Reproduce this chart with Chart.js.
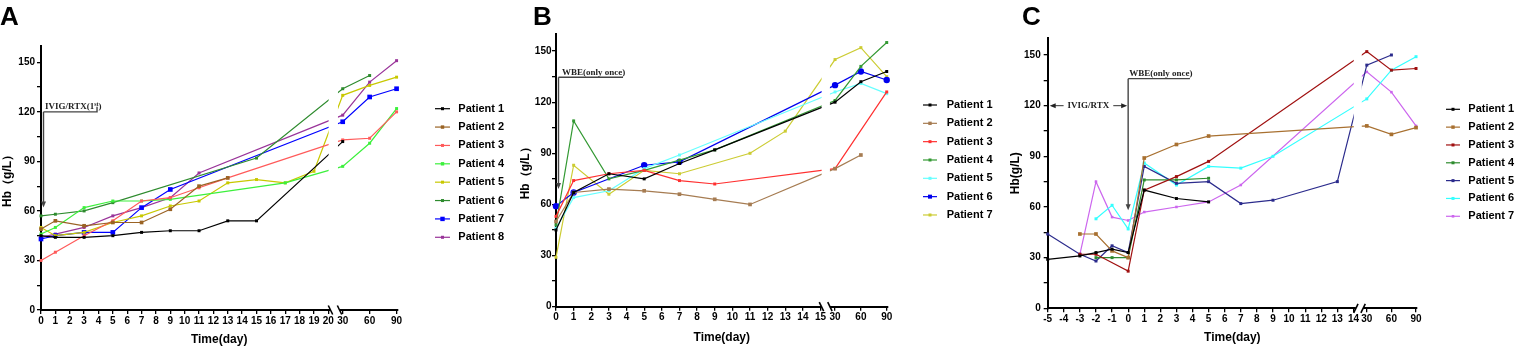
<!DOCTYPE html>
<html>
<head>
<meta charset="utf-8">
<title>Hb over time</title>
<script src="https://cdn.jsdelivr.net/npm/chart.js@4.4.1/dist/chart.umd.min.js"></script>
<style>
html,body{margin:0;padding:0;background:#fff;}
body{position:relative;width:1515px;height:350px;overflow:hidden;}
canvas{position:absolute;top:0;}
</style>
</head>
<body>
<canvas id="chartA" width="510" height="350" style="left:0px"></canvas>
<canvas id="chartB" width="500" height="350" style="left:510px"></canvas>
<canvas id="chartC" width="505" height="350" style="left:1010px"></canvas>
<script>
// ================= DATA =================
// Panel A
const aDays = [0,1,3,5,7,9,11,13,15,17,19,30,60,90];
const aPatient1 = [45,44,44,45,47,48,48,54,54,null,null,102,null,null];
const aPatient2 = [49,54,51,53,53,61,75,80,null,null,null,null,null,null];
const aPatient3 = [30,35,45,54,66,68,74,80,null,null,null,103,104,120];
const aPatient4 = [46,50,62,66,66,67,null,null,null,77,null,87,101,122];
const aPatient5 = [50,45,47,53,57,63,66,77,79,77,84,130,136,141];
const aPatient6 = [57,58,60,65,null,null,null,null,92,null,null,134,142,null];
const aPatient7 = [43,45,47,47,62,73,null,null,null,null,null,114,129,134];
const aPatient8 = [44,46,50,57,62,68,83,null,null,null,null,118,138,151];
const aNames = ['Patient 1','Patient 2','Patient 3','Patient 4','Patient 5','Patient 6','Patient 7','Patient 8'];
const aXTickLabels = [0,1,2,3,4,5,6,7,8,9,10,11,12,13,14,15,16,17,18,19,20,30,60,90];

// Panel B
const bDays = [0,1,3,5,7,9,11,13,30,60,90];
const bPatient1 = [45,67,78,75,84,92,null,null,120,132,138];
const bPatient2 = [50,67,69,68,66,63,60,null,81,89,null];
const bPatient3 = [53,74,78,80,74,72,null,null,81,null,126];
const bPatient4 = [48,109,75,80,86,92,null,null,121,141,155];
const bPatient5 = [46,64,68,81,89,null,null,null,126,131,125];
const bPatient6 = [59,67,null,83,85,null,null,null,130,138,133];
const bPatient7 = [29,83,66,80,78,null,90,103,145,152,135];
const bNames = ['Patient 1','Patient 2','Patient 3','Patient 4','Patient 5','Patient 6','Patient 7'];
const bXTickLabels = [0,1,2,3,4,5,6,7,8,9,10,11,12,13,14,15,30,60,90];

// Panel C
const cDays = [-5,-3,-2,-1,0,1,3,5,7,9,13,30,60,90];
const cPatient1 = [29,31,33,35,33,70,65,63,null,null,null,null,null,null];
const cPatient2 = [null,44,44,34,30,89,97,102,null,null,null,108,103,107];
const cPatient3 = [null,32,32,null,22,70,78,87,null,null,null,152,141,142];
const cPatient4 = [null,null,30,30,30,76,76,77,null,null,null,null,null,null];
const cPatient5 = [44,32,28,37,33,84,74,75,62,64,75,144,150,null];
const cPatient6 = [null,null,53,61,47,86,73,84,83,90,null,124,141,149];
const cPatient7 = [null,32,75,54,52,57,60,63,73,null,null,140,128,108];
const cNames = ['Patient 1','Patient 2','Patient 3','Patient 4','Patient 5','Patient 6','Patient 7'];
const cXTickLabels = [-5,-4,-3,-2,-1,0,1,2,3,4,5,6,7,8,9,10,11,12,13,14,30,60,90];

const hbTicks = [0,15,30,45,60,75,90,105,120,135,150];

// ============ broken-axis transforms (day -> axis position) ============
function mapA(d){ return d <= 20 ? d : 21 + (d - 30) * 1.875 / 30; }
function mapB(d){ return d <= 15 ? d : 15.82 + (d - 30) * 1.465 / 30; }
function mapC(d){ return d <= 14 ? d : 14.83 + (d - 30) * 1.53 / 30; }

const SANS = "'Liberation Sans', Arial, sans-serif";
const SERIF = "'Liberation Serif', 'Times New Roman', serif";
Chart.defaults.font.family = SANS;

function arrowDown(ctx, x, y1, y2){
  ctx.beginPath(); ctx.moveTo(x, y1); ctx.lineTo(x, y2 - 4); ctx.stroke();
  ctx.beginPath(); ctx.moveTo(x, y2); ctx.lineTo(x - 2.5, y2 - 6); ctx.lineTo(x + 2.5, y2 - 6); ctx.closePath(); ctx.fill();
}
function arrowH(ctx, x1, x2, y){
  const s = x2 > x1 ? 1 : -1;
  ctx.beginPath(); ctx.moveTo(x1, y); ctx.lineTo(x2 - 4 * s, y); ctx.stroke();
  ctx.beginPath(); ctx.moveTo(x2, y); ctx.lineTo(x2 - 6 * s, y - 2.5); ctx.lineTo(x2 - 6 * s, y + 2.5); ctx.closePath(); ctx.fill();
}

function build(o){
  const datasets = o.series.map((vals, i) => ({
    label: o.names[i],
    data: o.days.map((d, j) => vals[j] == null ? null : { x: o.map(d), y: vals[j] }).filter(Boolean),
    borderColor: o.colors[i],
    backgroundColor: o.colors[i],
    borderWidth: 1.2,
    pointStyle: o.pstyle[i],
    pointRadius: o.prad[i],
    pointBorderWidth: 0,
    pointHoverRadius: o.prad[i],
    tension: 0,
    clip: false
  }));
  const plugin = {
    id: 'decor',
    afterDatasetsDraw(chart){
      const { ctx, chartArea: ca } = chart; const xs = chart.scales.x;
      ctx.save();
      ctx.fillStyle = '#fff';
      const g0 = xs.getPixelForValue(o.gap[0]), g1 = xs.getPixelForValue(o.gap[1]);
      ctx.fillRect(g0, ca.top - 3, g1 - g0, ca.bottom - 1.6 - ca.top + 3);
      const m0 = xs.getPixelForValue(o.marks[0]), m1 = xs.getPixelForValue(o.marks[1]);
      ctx.fillRect(m0, ca.bottom - 1.6, m1 - m0, 3.2);
      ctx.strokeStyle = '#000'; ctx.lineWidth = 1.6;
      const s = o.slant;
      [m0, m1].forEach(m => { ctx.beginPath(); ctx.moveTo(m - 2.2 * s, ca.bottom - 4.5); ctx.lineTo(m + 2.2 * s, ca.bottom + 4.5); ctx.stroke(); });
      ctx.restore();
    },
    afterDraw(chart){
      const { ctx } = chart; const xs = chart.scales.x, ys = chart.scales.y;
      ctx.save();
      // panel letter
      ctx.fillStyle = '#000'; ctx.font = 'bold 26px ' + SANS; ctx.textBaseline = 'alphabetic'; ctx.textAlign = 'left';
      ctx.fillText(o.letter, o.letterX, 25);
      // legend
      const L = o.legend;
      ctx.font = 'bold 11px ' + SANS; ctx.textBaseline = 'middle';
      o.names.forEach((n, i) => {
        const y = L.y0 + i * L.dy;
        ctx.strokeStyle = o.colors[i]; ctx.lineWidth = 1.2;
        ctx.beginPath(); ctx.moveTo(L.sx, y); ctx.lineTo(L.sx + L.sw, y); ctx.stroke();
        const r = o.ldot[i]; ctx.fillStyle = o.colors[i];
        ctx.fillRect(L.sx + L.sw / 2 - r, y - r, 2 * r, 2 * r);
        ctx.fillStyle = '#000'; ctx.fillText(n, L.tx, y);
      });
      o.annotate(ctx, xs, ys);
      ctx.restore();
    }
  };
  const tickFont = { family: SANS, size: 10, weight: 'bold' };
  const titleFont = { family: SANS, size: 12, weight: 'bold' };
  return new Chart(document.getElementById(o.id), {
    type: 'line',
    data: { datasets },
    options: {
      responsive: false, animation: false, events: [],
      layout: { padding: { left: 0, top: o.top, right: o.right, bottom: 0 } },
      plugins: { legend: { display: false }, tooltip: { enabled: false } },
      scales: {
        x: {
          type: 'linear', min: o.xmin, max: o.xmax,
          afterBuildTicks: s => { s.ticks = o.xTicks.map(d => ({ value: o.map(d) })); },
          afterFit: s => { s.height = o.xh; },
          ticks: { autoSkip: false, maxRotation: 0, minRotation: 0, padding: 1, color: '#000', font: tickFont,
                   callback: (v, i) => String(o.xTicks[i]) },
          grid: { display: true, drawOnChartArea: false, drawTicks: true, tickLength: 4, color: '#000', lineWidth: 1.3 },
          border: { display: true, color: '#000', width: 2 },
          title: { display: true, text: 'Time(day)', color: '#000', font: titleFont, padding: { top: 0, bottom: o.xtpb } }
        },
        y: {
          type: 'linear', min: 0, max: 160,
          afterBuildTicks: s => { s.ticks = hbTicks.map(v => ({ value: v })); },
          afterFit: s => { s.width = o.yw; },
          ticks: { padding: o.ytp, color: '#000', font: tickFont, callback: v => (v % 30 === 0 ? String(v) : '') },
          grid: { display: true, drawOnChartArea: false, drawTicks: true, tickLength: 4, color: '#000', lineWidth: 1.3 },
          border: { display: true, color: '#000', width: 2 },
          title: { display: true, text: o.ytitle, color: '#000', font: { family: SANS, size: 12, weight: 'bold', lineHeight: 1 }, padding: { top: o.yttp, bottom: 0 } }
        }
      }
    },
    plugins: [plugin]
  });
}

// ---------- Panel A ----------
build({
  id: 'chartA', letter: 'A', letterX: 0,
  days: aDays, map: mapA, xTicks: aXTickLabels, names: aNames,
  series: [aPatient1, aPatient2, aPatient3, aPatient4, aPatient5, aPatient6, aPatient7, aPatient8],
  colors: ['#000000', '#9a6324', '#ff5a5a', '#3cf03c', '#c8c800', '#2e8b2e', '#0000ff', '#993399'],
  pstyle: ['rect','rect','rect','rect','rect','rect','rect','rect'],
  prad: [2.1, 2.6, 2.1, 2.1, 2.1, 2.1, 3.3, 2.1],
  ldot: [1.5, 1.7, 1.5, 1.7, 1.5, 1.5, 2.2, 1.5],
  xmin: 0, xmax: 24.8, top: 45.8, right: 112.7, xh: 40, yw: 41,
  xtpb: 2.8, ytp: 2, yttp: 1.5, ytitle: 'Hb（g/L）',
  gap: [20.02, 20.67], marks: [20.15, 20.78], slant: 1,
  legend: { sx: 435, sw: 15, tx: 458.3, y0: 108.7, dy: 18.37 },
  annotate(ctx, xs, ys){
    const x0 = xs.getPixelForValue(mapA(0)) + 2.5;
    const yT = ys.getPixelForValue(120), yTip = ys.getPixelForValue(62);
    const x1 = xs.getPixelForValue(mapA(3.9));
    ctx.strokeStyle = '#444'; ctx.fillStyle = '#444'; ctx.lineWidth = 1.4;
    ctx.beginPath(); ctx.moveTo(x0, yT); ctx.lineTo(x1, yT); ctx.lineTo(x1, yT - 5); ctx.stroke();
    arrowDown(ctx, x0, yT, yTip);
    ctx.fillStyle = '#222'; ctx.textBaseline = 'alphabetic';
    ctx.font = 'bold 9px ' + SERIF;
    let tx = x0 + 1.5; const by = yT - 2.5;
    ctx.fillText('IVIG/RTX(1', tx, by); tx += ctx.measureText('IVIG/RTX(1').width;
    ctx.font = 'bold 6px ' + SERIF; ctx.fillText('st', tx, by - 3.5); tx += ctx.measureText('st').width;
    ctx.font = 'bold 9px ' + SERIF; ctx.fillText(')', tx, by);
  }
});

// ---------- Panel B ----------
build({
  id: 'chartB', letter: 'B', letterX: 23,
  days: bDays, map: mapB, xTicks: bXTickLabels, names: bNames,
  series: [bPatient1, bPatient2, bPatient3, bPatient4, bPatient5, bPatient6, bPatient7],
  colors: ['#000000', '#a67c52', '#ff3030', '#339933', '#66ffff', '#0000ee', '#cccc33'],
  pstyle: ['rect','rect','rect','rect','rect','circle','rect'],
  prad: [2.1, 2.6, 2.1, 2.1, 2.1, 3.2, 2.1],
  ldot: [1.5, 1.7, 1.5, 1.5, 1.5, 2.0, 1.5],
  xmin: 0, xmax: 18.8, top: 34, right: 122.4, xh: 43.3, yw: 46,
  xtpb: 5.3, ytp: 0.5, yttp: 10, ytitle: 'Hb（g/L）',
  gap: [15.06, 15.53], marks: [15.05, 15.53], slant: 1,
  legend: { sx: 413, sw: 14, tx: 436.7, y0: 105, dy: 18.33 },
  annotate(ctx, xs, ys){
    const x0 = xs.getPixelForValue(0) + 2.5;
    const yT = ys.getPixelForValue(134.6), yTip = ys.getPixelForValue(69);
    const x1 = xs.getPixelForValue(3.8);
    ctx.strokeStyle = '#444'; ctx.fillStyle = '#444'; ctx.lineWidth = 1.4;
    ctx.beginPath(); ctx.moveTo(x0, yT); ctx.lineTo(x1, yT); ctx.stroke();
    arrowDown(ctx, x0, yT, yTip);
    ctx.fillStyle = '#222'; ctx.textBaseline = 'alphabetic';
    ctx.font = 'bold 9px ' + SERIF;
    ctx.fillText('WBE(only once)', x0 + 3.5, yT - 2.5);
  }
});

// ---------- Panel C ----------
build({
  id: 'chartC', letter: 'C', letterX: 12,
  days: cDays, map: mapC, xTicks: cXTickLabels, names: cNames,
  series: [cPatient1, cPatient2, cPatient3, cPatient4, cPatient5, cPatient6, cPatient7],
  colors: ['#000000', '#a87030', '#a01010', '#2e8b2e', '#2b2b8c', '#33ffff', '#cc66ee'],
  pstyle: ['rect','rect','rect','rect','rect','rect','rect'],
  prad: [2.1, 2.6, 2.1, 2.1, 2.1, 2.1, 1.8],
  ldot: [1.5, 1.7, 1.5, 1.5, 1.5, 1.5, 1.3],
  xmin: -5, xmax: 17.95, top: 38.1, right: 98, xh: 41.7, yw: 37.7,
  xtpb: 4.8, ytp: 3, yttp: 0, ytitle: 'Hb(g/L)',
  gap: [14.02, 14.52], marks: [14.15, 14.6], slant: -1,
  legend: { sx: 436, sw: 14, tx: 458.3, y0: 109.3, dy: 17.83 },
  annotate(ctx, xs, ys){
    const x0 = xs.getPixelForValue(mapC(0));
    const yT = ys.getPixelForValue(136), yTip = ys.getPixelForValue(58);
    const x1 = xs.getPixelForValue(mapC(3.84));
    ctx.strokeStyle = '#444'; ctx.fillStyle = '#444'; ctx.lineWidth = 1.4;
    ctx.beginPath(); ctx.moveTo(x0, yT); ctx.lineTo(x1, yT); ctx.stroke();
    arrowDown(ctx, x0, yT, yTip);
    ctx.fillStyle = '#222'; ctx.textBaseline = 'alphabetic';
    ctx.font = 'bold 9px ' + SERIF;
    ctx.fillText('WBE(only once)', x0 + 1, yT - 3);
    // IVIG/RTX double arrow
    const yI = ys.getPixelForValue(120);
    const xl = xs.getPixelForValue(mapC(-5)) + 2, xr = x0 - 1;
    const label = 'IVIG/RTX';
    const w = ctx.measureText(label).width; const cx = (xl + xr) / 2;
    ctx.textBaseline = 'middle'; ctx.textAlign = 'center';
    ctx.fillText(label, cx, yI);
    ctx.lineWidth = 1.1;
    arrowH(ctx, cx - w / 2 - 4, xl, yI);
    arrowH(ctx, cx + w / 2 + 4, xr, yI);
  }
});
</script>
</body>
</html>
